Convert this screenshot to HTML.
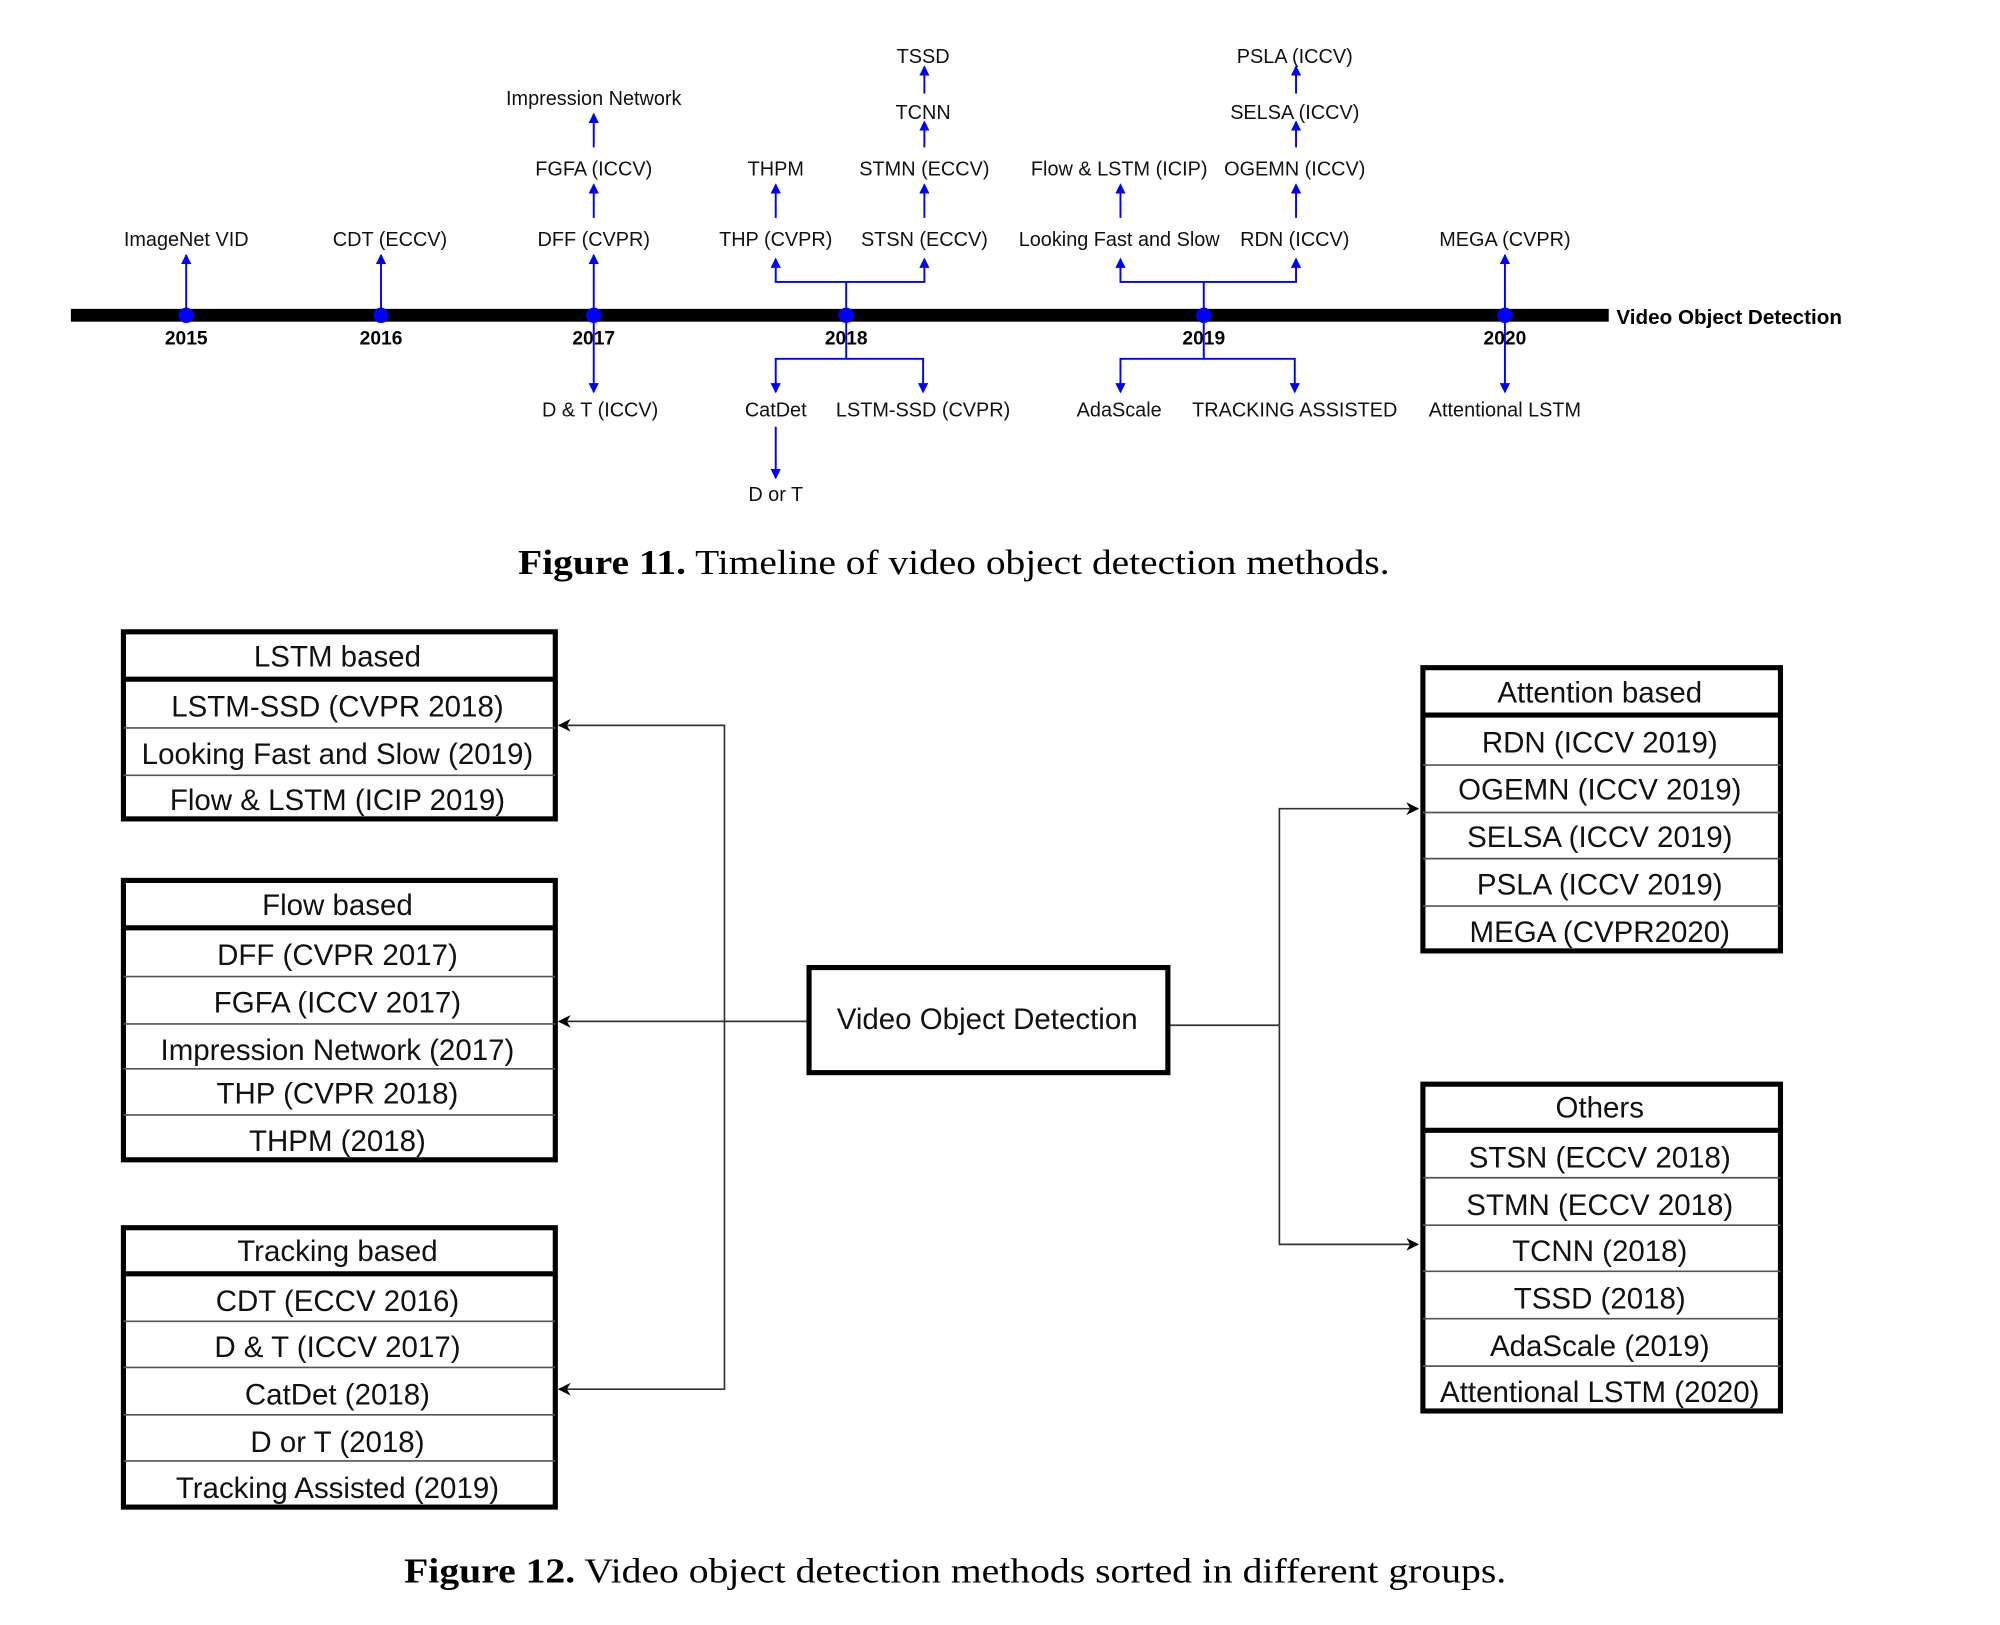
<!DOCTYPE html>
<html><head><meta charset="utf-8"><style>html,body{margin:0;padding:0;background:#fff}svg{display:block}</style></head>
<body>
<svg width="2000" height="1625" viewBox="0 0 1560 1268" xmlns="http://www.w3.org/2000/svg" font-family="'Liberation Sans', Arial, sans-serif">
<defs>
<marker id="ab" markerWidth="8" markerHeight="8" refX="7" refY="4" orient="auto" markerUnits="userSpaceOnUse"><path d="M0,0 L8,4 L0,8 Z" fill="#0000ff"/></marker>
<marker id="ak" markerWidth="10" markerHeight="10" refX="9" refY="5" orient="auto" markerUnits="userSpaceOnUse"><path d="M0,0 L10,5 L0,10 L3,5 Z" fill="#000"/></marker>
</defs>
<rect width="1560" height="1268" fill="#fff"/>
<g transform="translate(-3,-2)">
<rect x="58" y="243" width="1200" height="10" fill="#000"/>
<text x="1264" y="255" font-size="16" font-weight="bold" textLength="176" lengthAdjust="spacingAndGlyphs">Video Object Detection</text>
<g fill="#0000ff"><circle cx="148" cy="248" r="6"/><circle cx="300" cy="248" r="6"/><circle cx="466" cy="248" r="6"/><circle cx="663" cy="248" r="6"/><circle cx="942" cy="248" r="6"/><circle cx="1177" cy="248" r="6"/></g>
<g font-size="15" font-weight="bold" text-anchor="middle"><text x="148" y="271">2015</text><text x="300" y="271">2016</text><text x="466" y="271">2017</text><text x="663" y="271">2018</text><text x="942" y="271">2019</text><text x="1177" y="271">2020</text></g>
<g stroke="#0000ff" stroke-width="1.5" fill="none" marker-end="url(#ab)">
<path d="M148,248 V201"/><path d="M300,248 V201"/><path d="M466,248 V201"/><path d="M466,172 V146"/><path d="M466,117 V91"/><path d="M466,248 V308"/>
<path d="M663,248 V222 H608 V204"/><path d="M663,222 H724 V204"/><path d="M608,172 V146"/><path d="M724,172 V146"/><path d="M724,117 V97"/><path d="M724,75 V54"/>
<path d="M663,248 V282 H608 V308"/><path d="M663,282 H723 V308"/><path d="M608,335 V375"/>
<path d="M942,248 V222 H877 V204"/><path d="M942,222 H1014 V204"/><path d="M877,172 V146"/><path d="M1014,172 V146"/><path d="M1014,117 V97"/><path d="M1014,75 V54"/>
<path d="M942,248 V282 H877 V308"/><path d="M942,282 H1013 V308"/>
<path d="M1177,248 V201"/><path d="M1177,248 V308"/>
</g>
<g font-size="15.5" text-anchor="middle" fill="#111">
<text x="148" y="194">ImageNet VID</text><text x="307" y="194">CDT (ECCV)</text>
<text x="466" y="194">DFF (CVPR)</text><text x="466" y="139">FGFA (ICCV)</text><text x="466" y="84">Impression Network</text><text x="471" y="327">D &amp; T (ICCV)</text>
<text x="608" y="194">THP (CVPR)</text><text x="724" y="194">STSN (ECCV)</text><text x="608" y="139">THPM</text><text x="724" y="139">STMN (ECCV)</text><text x="723" y="95">TCNN</text><text x="723" y="51">TSSD</text>
<text x="608" y="327">CatDet</text><text x="723" y="327">LSTM-SSD (CVPR)</text><text x="608" y="393">D or T</text>
<text x="876" y="194">Looking Fast and Slow</text><text x="1013" y="194">RDN (ICCV)</text><text x="876" y="139">Flow &amp; LSTM (ICIP)</text><text x="1013" y="139">OGEMN (ICCV)</text><text x="1013" y="95">SELSA (ICCV)</text><text x="1013" y="51">PSLA (ICCV)</text>
<text x="876" y="327">AdaScale</text><text x="1013" y="327">TRACKING ASSISTED</text>
<text x="1177" y="194">MEGA (CVPR)</text><text x="1177" y="327">Attentional LSTM</text>
</g>
<text x="407" y="450" font-family="'Liberation Serif', serif" font-size="27" textLength="680" lengthAdjust="spacingAndGlyphs"><tspan font-weight="bold">Figure 11.</tspan> Timeline of video object detection methods.</text>

<g stroke="#333" stroke-width="1.3" fill="none">
<path d="M633,799 H439" marker-end="url(#ak)"/>
<path d="M568,799 V568 H439" marker-end="url(#ak)"/>
<path d="M568,799 V1086 H439" marker-end="url(#ak)"/>
<path d="M914,802 H1001"/>
<path d="M1001,802 V633 H1109" marker-end="url(#ak)"/>
<path d="M1001,802 V973 H1109" marker-end="url(#ak)"/>
</g>

<g font-size="23" text-anchor="middle" fill="#111">
<rect x="99" y="495" width="337" height="146" fill="none" stroke="#000" stroke-width="4"/>
<line x1="99" y1="532" x2="436" y2="532" stroke="#000" stroke-width="4"/>
<line x1="99" y1="570" x2="436" y2="570" stroke="#555" stroke-width="1.3"/><line x1="99" y1="607" x2="436" y2="607" stroke="#555" stroke-width="1.3"/>
<text x="266" y="522">LSTM based</text><text x="266" y="561">LSTM-SSD (CVPR 2018)</text><text x="266" y="598">Looking Fast and Slow (2019)</text><text x="266" y="634">Flow &amp; LSTM (ICIP 2019)</text>
<rect x="99" y="689" width="337" height="218" fill="none" stroke="#000" stroke-width="4"/>
<line x1="99" y1="726" x2="436" y2="726" stroke="#000" stroke-width="4"/>
<g stroke="#555" stroke-width="1.3"><line x1="99" y1="764" x2="436" y2="764"/><line x1="99" y1="801" x2="436" y2="801"/><line x1="99" y1="836" x2="436" y2="836"/><line x1="99" y1="872" x2="436" y2="872"/></g>
<text x="266" y="716">Flow based</text><text x="266" y="755">DFF (CVPR 2017)</text><text x="266" y="792">FGFA (ICCV 2017)</text><text x="266" y="829">Impression Network (2017)</text><text x="266" y="863">THP (CVPR 2018)</text><text x="266" y="900">THPM (2018)</text>
<rect x="99" y="960" width="337" height="218" fill="none" stroke="#000" stroke-width="4"/>
<line x1="99" y1="996" x2="436" y2="996" stroke="#000" stroke-width="4"/>
<g stroke="#555" stroke-width="1.3"><line x1="99" y1="1033" x2="436" y2="1033"/><line x1="99" y1="1069" x2="436" y2="1069"/><line x1="99" y1="1106" x2="436" y2="1106"/><line x1="99" y1="1142" x2="436" y2="1142"/></g>
<text x="266" y="986">Tracking based</text><text x="266" y="1025">CDT (ECCV 2016)</text><text x="266" y="1061">D &amp; T (ICCV 2017)</text><text x="266" y="1098">CatDet (2018)</text><text x="266" y="1135">D or T (2018)</text><text x="266" y="1171">Tracking Assisted (2019)</text>
<rect x="634" y="757" width="280" height="82" fill="#fff" stroke="#000" stroke-width="4"/>
<text x="773" y="805">Video Object Detection</text>
<rect x="1113" y="523" width="279" height="221" fill="none" stroke="#000" stroke-width="4"/>
<line x1="1113" y1="560" x2="1392" y2="560" stroke="#000" stroke-width="4"/>
<g stroke="#555" stroke-width="1.3"><line x1="1113" y1="599" x2="1392" y2="599"/><line x1="1113" y1="636" x2="1392" y2="636"/><line x1="1113" y1="672" x2="1392" y2="672"/><line x1="1113" y1="709" x2="1392" y2="709"/></g>
<text x="1251" y="550">Attention based</text><text x="1251" y="589">RDN (ICCV 2019)</text><text x="1251" y="626">OGEMN (ICCV 2019)</text><text x="1251" y="663">SELSA (ICCV 2019)</text><text x="1251" y="700">PSLA (ICCV 2019)</text><text x="1251" y="737">MEGA (CVPR2020)</text>
<rect x="1113" y="848" width="279" height="255" fill="none" stroke="#000" stroke-width="4"/>
<line x1="1113" y1="884" x2="1392" y2="884" stroke="#000" stroke-width="4"/>
<g stroke="#555" stroke-width="1.3"><line x1="1113" y1="921" x2="1392" y2="921"/><line x1="1113" y1="958" x2="1392" y2="958"/><line x1="1113" y1="994" x2="1392" y2="994"/><line x1="1113" y1="1031" x2="1392" y2="1031"/><line x1="1113" y1="1068" x2="1392" y2="1068"/></g>
<text x="1251" y="874">Others</text><text x="1251" y="913">STSN (ECCV 2018)</text><text x="1251" y="950">STMN (ECCV 2018)</text><text x="1251" y="986">TCNN (2018)</text><text x="1251" y="1023">TSSD (2018)</text><text x="1251" y="1060">AdaScale (2019)</text><text x="1251" y="1096">Attentional LSTM (2020)</text>
</g>
<text x="318" y="1237" font-family="'Liberation Serif', serif" font-size="27" textLength="860" lengthAdjust="spacingAndGlyphs"><tspan font-weight="bold">Figure 12.</tspan> Video object detection methods sorted in different groups.</text>
</g>
</svg>
</body></html>
